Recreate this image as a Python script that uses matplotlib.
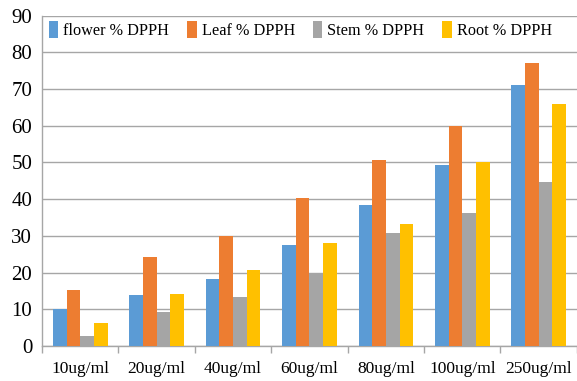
import numpy as np
import matplotlib.pyplot as plt

categories = ['10ug/ml', '20ug/ml', '40ug/ml', '60ug/ml', '80ug/ml', '100ug/ml', '250ug/ml']
series_names = ['flower % DPPH', 'Leaf % DPPH', 'Stem % DPPH', 'Root % DPPH']
flower = [10.1, 13.8, 18.2, 27.4, 38.3, 49.2, 71.0]
leaf = [15.2, 24.2, 30.1, 40.3, 50.8, 60.0, 77.0]
stem = [2.8, 9.3, 13.3, 19.9, 30.8, 36.3, 44.7]
root = [6.3, 14.3, 20.7, 28.0, 33.3, 50.2, 66.0]
colors = ['#5B9BD5', '#ED7D31', '#A5A5A5', '#FFC000']

plt.rcParams['font.family'] = ['Liberation Serif', 'DejaVu Serif']

fig = plt.figure(figsize=(5.77, 3.81), dpi=100)
ax = fig.add_axes([0.0728, 0.0919, 0.927, 0.8669])

x = np.arange(len(categories))
w = 0.179
for i, (vals, name) in enumerate(zip([flower, leaf, stem, root], series_names)):
    ax.bar(x + (i - 1.5) * w, vals, width=w, color=colors[i], label=name, zorder=3)

ax.set_xlim(-0.5, len(categories) - 0.5)
ax.set_ylim(0, 90)
ax.set_yticks(range(0, 91, 10))
ax.yaxis.grid(True, color='#A6A6A6', linewidth=1.0, zorder=0)
ax.set_axisbelow(True)

ax.set_xticks(x)
ax.set_xticklabels(categories)
ax.set_xticks(np.arange(-0.5, len(categories), 1.0), minor=True)
ax.tick_params(axis='x', which='major', length=0, pad=11, labelsize=12.5)
ax.tick_params(axis='x', which='minor', length=5, color='#A6A6A6', width=1)
ax.tick_params(axis='y', length=0, pad=7, labelsize=15)

for s in ['top', 'right']:
    ax.spines[s].set_visible(False)
for s in ['left', 'bottom']:
    ax.spines[s].set_color('#A6A6A6')
    ax.spines[s].set_linewidth(1.0)

ax.legend(loc='upper left', bbox_to_anchor=(0.0, 1.005), ncol=4, frameon=False,
          fontsize=11.7, handlelength=0.6, handleheight=1.25, handletextpad=0.3,
          columnspacing=1.1, borderaxespad=0)

fig.savefig('out.png', dpi=100)
